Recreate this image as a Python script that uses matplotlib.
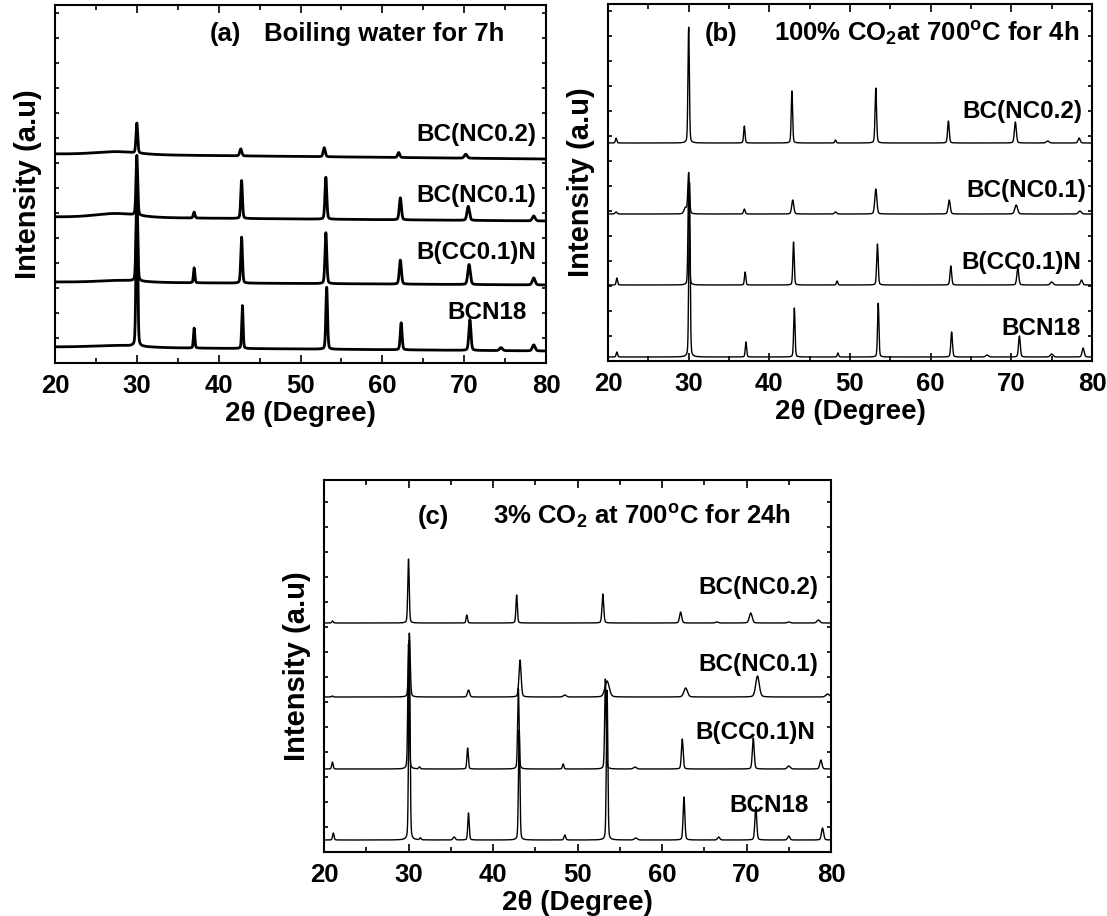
import numpy as np
import matplotlib
matplotlib.use("Agg")
import matplotlib.pyplot as plt
from matplotlib.ticker import MultipleLocator, NullFormatter

plt.rcParams['font.family'] = ['Liberation Sans', 'DejaVu Sans']
plt.rcParams['font.weight'] = 'bold'
plt.rcParams['mathtext.fontset'] = 'custom'
plt.rcParams['mathtext.rm'] = 'Liberation Sans:bold'
plt.rcParams['mathtext.bf'] = 'Liberation Sans:bold'
plt.rcParams['mathtext.it'] = 'Liberation Sans:bold'

# ---------------- data ----------------
samples = ["BC(NC0.2)", "BC(NC0.1)", "B(CC0.1)N", "BCN18"]
xticks = [20, 30, 40, 50, 60, 70, 80]

# panel (a): boiling water for 7h  -- baseline (left, right) and peaks (pos, height, half-width)
a_base = [(209, 204), (146, 142), (81, 78), (16, 12)]
a_pos = [[27.5, 30.0, 42.7, 52.9, 62.0, 70.2],
         [27.5, 30.0, 37.0, 42.8, 53.1, 62.2, 70.5, 78.5],
         [28.0, 30.0, 37.0, 42.8, 53.1, 62.2, 70.6, 78.5],
         [27.5, 30.0, 37.0, 42.9, 53.2, 62.3, 70.7, 74.5, 78.5]]
a_hgt = [[3, 30, 7, 9, 5, 4],
         [4, 60, 6, 38, 42, 22, 14, 5],
         [2, 90, 15, 46, 51, 24, 20, 7],
         [2, 150, 20, 43, 62, 27, 31, 3, 6]]
a_wid = [[3.0, 0.12, 0.15, 0.15, 0.15, 0.2],
         [3.0, 0.12, 0.12, 0.12, 0.13, 0.15, 0.18, 0.2],
         [3.0, 0.12, 0.10, 0.12, 0.13, 0.15, 0.18, 0.2],
         [3.5, 0.12, 0.10, 0.10, 0.12, 0.13, 0.15, 0.2, 0.2]]

# panel (b): 100% CO2 at 700C for 4h
b_base = [(218, 218), (147, 147), (76, 76), (4, 4)]
b_pos = [[21.0, 30.0, 36.9, 42.8, 48.2, 53.2, 62.2, 70.5, 74.5, 78.4],
         [21.0, 29.6, 30.0, 36.9, 42.9, 48.2, 53.2, 62.3, 70.6, 78.5],
         [21.1, 30.0, 37.0, 43.0, 48.4, 53.4, 62.5, 70.8, 75.0, 78.7],
         [21.1, 30.1, 37.1, 43.1, 48.5, 53.5, 62.6, 67.0, 71.0, 75.0, 78.9]]
b_hgt = [[5, 116, 17, 52, 3, 55, 22, 21, 2, 5],
         [2, 6, 41, 5, 14, 2, 25, 14, 9, 3],
         [7, 100, 13, 43, 4, 41, 19, 17, 3, 5],
         [5, 175, 15, 49, 4, 54, 25, 2, 21, 3, 9]]
b_wid = [[0.1, 0.1, 0.1, 0.1, 0.1, 0.11, 0.12, 0.14, 0.2, 0.15],
         [0.15, 0.2, 0.12, 0.12, 0.15, 0.15, 0.15, 0.15, 0.2, 0.2],
         [0.1, 0.1, 0.1, 0.1, 0.1, 0.11, 0.12, 0.14, 0.2, 0.15],
         [0.1, 0.1, 0.1, 0.1, 0.1, 0.1, 0.12, 0.2, 0.13, 0.2, 0.15]]

# panel (c): 3% CO2 at 700C for 24h
c_base = [(229, 229), (155, 155), (83, 83), (12, 12)]
c_pos = [[21.0, 30.0, 36.9, 42.8, 53.0, 62.2, 66.5, 70.5, 75.0, 78.5],
         [21.0, 30.1, 37.1, 43.2, 48.5, 53.5, 62.8, 71.3, 79.6],
         [21.0, 30.0, 31.3, 37.0, 43.0, 48.3, 53.3, 56.8, 62.4, 70.8, 75.0, 78.8],
         [21.1, 30.1, 31.4, 35.4, 37.1, 43.1, 48.5, 53.5, 56.9, 62.6, 66.7, 71.1, 75.0, 79.0]]
c_hgt = [[2, 64, 8, 28, 29, 11, 1, 10, 1, 3],
         [1, 64, 7, 37, 2, 16, 9, 21, 3],
         [7, 125, 2, 21, 81, 5, 90, 2, 30, 31, 3, 9],
         [7, 200, 2, 3, 27, 110, 5, 150, 2, 43, 3, 33, 4, 12]]
c_wid = [[0.1, 0.1, 0.1, 0.1, 0.12, 0.15, 0.2, 0.2, 0.2, 0.2],
         [0.1, 0.12, 0.15, 0.15, 0.2, 0.3, 0.25, 0.25, 0.25],
         [0.1, 0.1, 0.1, 0.1, 0.1, 0.1, 0.1, 0.2, 0.12, 0.13, 0.2, 0.15],
         [0.1, 0.1, 0.1, 0.15, 0.1, 0.1, 0.12, 0.1, 0.2, 0.12, 0.15, 0.13, 0.15, 0.15]]

# ---------------- figure ----------------
fig = plt.figure(figsize=(11.07, 9.16), dpi=100)
W, H = 1107, 916


def ax_at(l, t, r, b):
    return fig.add_axes([l / W, 1 - b / H, (r - l) / W, (b - t) / H])


two_theta = np.linspace(20, 80, 4001)


def pattern(base, pos, hgt, wid, eta=0.25):
    y = base[0] + (base[1] - base[0]) * (two_theta - 20) / 60.0
    for p, h, w in zip(pos, hgt, wid):
        u = (two_theta - p) / w
        y = y + h * (eta / (1 + u ** 2) + (1 - eta) * np.exp(-np.log(2) * u ** 2))
    return y


panels = [
    dict(rect=(55, 5, 546, 363), ylim=358, base=a_base, pos=a_pos, hgt=a_hgt, wid=a_wid, lw=2.0,
         tag="(a)", tagx=0.315, title="Boiling water for 7h", titlex=0.425, titley=0.92,
         lab=[(0.98, 0.637), (0.98, 0.469), (0.98, 0.31), (0.96, 0.14)]),
    dict(rect=(608, 4, 1092, 361), ylim=357, base=b_base, pos=b_pos, hgt=b_hgt, wid=b_wid, lw=1.0,
         tag="(b)", tagx=0.20, title=r"100% CO$_\mathregular{2}$at 700$^\mathregular{o}$C for 4h",
         titlex=0.342, titley=0.916,
         lab=[(0.98, 0.70), (0.988, 0.478), (0.977, 0.277), (0.977, 0.092)]),
    dict(rect=(324, 480, 831, 852), ylim=372, base=c_base, pos=c_pos, hgt=c_hgt, wid=c_wid, lw=1.0,
         tag="(c)", tagx=0.185, title=r"3% CO$_\mathregular{2}$ at 700$^\mathregular{o}$C for 24h",
         titlex=0.333, titley=0.90,
         lab=[(0.975, 0.71), (0.975, 0.503), (0.968, 0.32), (0.957, 0.126)]),
]

for pn in panels:
    ax = ax_at(*pn['rect'])
    for i, name in enumerate(samples):
        y = pattern(pn['base'][i], pn['pos'][i], pn['hgt'][i], pn['wid'][i])
        ax.plot(two_theta, y, color='black', lw=pn['lw'])
        lx, ly = pn['lab'][i]
        ax.text(lx, ly, name, transform=ax.transAxes, ha='right', va='center',
                fontsize=17.5, fontweight='bold')
    ax.text(pn['tagx'], pn['titley'], pn['tag'], transform=ax.transAxes, ha='left', va='center',
            fontsize=18.5, fontweight='bold')
    ax.text(pn['titlex'], pn['titley'], pn['title'], transform=ax.transAxes, ha='left', va='center',
            fontsize=18.5, fontweight='bold')
    ax.set_xlim(20, 80)
    ax.set_ylim(0, pn['ylim'])
    ax.set_xticks(xticks)
    ax.set_xticklabels([str(v) for v in xticks])
    ax.xaxis.set_minor_locator(MultipleLocator(5))
    ax.yaxis.set_major_locator(MultipleLocator(25))
    ax.yaxis.set_major_formatter(NullFormatter())
    ax.tick_params(axis='both', which='both', direction='in', top=True, right=True, width=1.2)
    ax.tick_params(axis='x', which='major', length=6, labelsize=18.5, pad=8)
    ax.tick_params(axis='x', which='minor', length=3.5)
    ax.tick_params(axis='y', which='major', length=3)
    for lbl in ax.get_xticklabels():
        lbl.set_fontweight('bold')
    for s in ax.spines.values():
        s.set_linewidth(1.5)
    ax.set_xlabel(r"2θ (Degree)", fontsize=20, fontweight='bold', labelpad=2)
    ax.set_ylabel("Intensity (a.u)", fontsize=21, fontweight='bold', labelpad=6)

fig.savefig("out.png", dpi=100)
